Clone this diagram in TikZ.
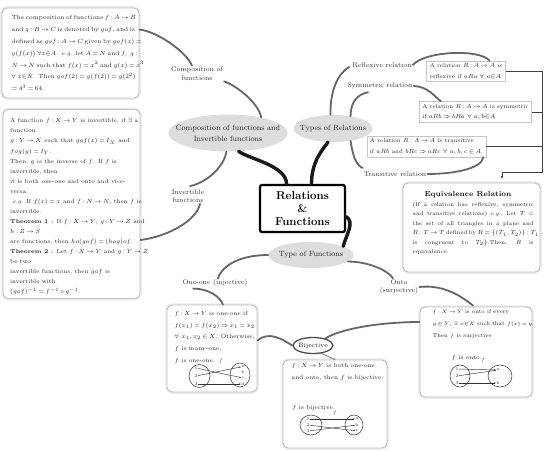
\documentclass[tikz,border=0pt]{standalone}
\usepackage{amsmath,amssymb}
\usepackage{fontspec}
\usetikzlibrary{shapes.geometric,calc,arrows.meta}
\newcommand{\jl}[2]{\makebox[#1][s]{#2}}
\begin{document}
\begin{tikzpicture}[x=1pt,y=-1pt,
  bigbox/.style={draw=gray!50, line width=0.9pt, rounded corners=5pt, fill=white, preaction={draw=gray!15, line width=3.5pt}, inner sep=0pt},
  rbox/.style={draw=gray!45, line width=0.6pt, fill=white, inner xsep=3pt, inner ysep=2.5pt, align=left, font=\fontsize{5.7}{10.5}\selectfont, text=black!85},
  txt/.style={inner sep=0pt, anchor=north west, text=black!85},
  bubble/.style={ellipse, fill=gray!27, inner sep=0pt},
  bubtext/.style={inner sep=0pt, text=black!85, align=center, font=\fontsize{7.6}{11}\selectfont},
  lab/.style={inner sep=1pt, text=black!80, align=center, font=\fontsize{6.8}{8.5}\selectfont},
  trunk/.style={line width=3.4pt, line cap=round, black!90},
  limb/.style={line width=1.8pt, line cap=round, black!60},
  twig/.style={line width=0.8pt, line cap=round, black!55},
  brk/.style={line width=0.7pt, black!75},
  setell/.style={ellipse, draw=black!75, line width=0.55pt, inner sep=0pt},
  elem/.style={inner sep=0.4pt, font=\fontsize{4.3}{5}\selectfont, text=black!80},
  mapar/.style={line width=0.45pt, black!80, -{Stealth[length=1.8pt,width=1.4pt]}},
]
\thickmuskip=3.5mu plus 2mu
\medmuskip=2.5mu plus 1mu
\fill[white] (0,0) rectangle (557,452);
\useasboundingbox (0,0) rectangle (557,452);

% ---------- left boxes
\node[bigbox, minimum width=137pt, minimum height=90pt] (tl) at (70.5,53) {};
\node[txt, align=left, font=\fontsize{6.0}{11.8}\selectfont] (tltext) at (11.5,15.5) {\jl{122pt}{The composition of functions $f : A \to B$}\\
\jl{122pt}{and $g : B \to C$ is denoted by $gof$, and is}\\
\jl{122pt}{defined as $gof : A \to C$ given by $gof(x) =$}\\
\jl{122pt}{$g(f(x))\ \forall x{\in}A$. \emph{e.g.} let $A = N$ and $f,\ g:$}\\
\jl{122pt}{$N \to N$ such that $f(x) = x^2$ and $g(x) = x^3$}\\
\jl{122pt}{$\forall\ x{\in}N$. Then $gof(2) = g(f(2)) = g(2^2)$}\\
$= 4^3 = 64$.};

\node[bigbox, minimum width=137pt, minimum height=189pt] (lb) at (71.5,204) {};
\node[txt, align=left, font=\fontsize{5.8}{10.06}\selectfont] (lbtext) at (10,118.5) {A function $f : X \to Y$ is invertible, if $\exists$ a\\
function\\
$g : Y \to X$ such that $gof(x) = I_X$ and\\
$fog(y) = I_Y$.\\
Then, $g$ is the inverse of $f$. If $f$ is\\
invertible, then\\
it is both one-one and onto and vice-\\
versa.\\
\ \emph{e.g.} If $f(x) = x$ and $f : N \to N$, then $f$ is\\
invertible.\\
\textbf{Theorem 1 :} If $f : X \to Y$, $g : Y \to Z$ and\\
$h : Z \to S$\\
are functions, then $ho(gof) = (hog)of$.\\
\textbf{Theorem 2 :} Let $f : X \to Y$ and $g : Y \to Z$\\
be two\\
invertible functions, then $gof$ is\\
invertible with\\
$(gof)^{-1} = f^{-1} \circ g^{-1}$.};

% ---------- equivalence box
\node[bigbox, minimum width=137pt, minimum height=89pt] (beq) at (471.5,227.5) {};
\node[txt, anchor=north, font=\fontsize{7.3}{9}\selectfont\bfseries, text=black!90] (eqtitle) at (468,191) {Equivalence Relation};
\node[txt, align=left, font=\fontsize{5.6}{9.5}\selectfont] (eqtext) at (412.5,202) {\jl{121pt}{(If a relation has reflexive, symmetric}\\
\jl{121pt}{and transitive relations) \emph{e.g.}, Let $T$ =}\\
\jl{121pt}{the set of all triangles in a plane and}\\
\jl{121pt}{$R : T \to T$ defined by $R = \{(T_1, T_2)\} : T_1$}\\
\jl{121pt}{is congruent to $T_2\}$.Then, $R$ is}\\
equivalence.};

% ---------- relation boxes
\node[rbox] (brefl) at (466,71) {A relation $R : A \to A$ is\\ reflexive if $aRa\ \forall\ a{\in}A$};
\node[rbox] (bsym) at (475.5,112) {A relation $R : A \to A$ is symmetric\\ if $aRb \Rightarrow bRa\ \forall\ a,b{\in}A$};
\node[rbox] (btrans) at (426.5,146.5) {A relation $R : A \to A$ is transitive\\ if $aRb$ and $bRc \Rightarrow aRc\ \forall\ a,b,c \in A$.};

% ---------- hub
\node[draw=black, line width=2.2pt, rounded corners=2pt, fill=white, minimum width=85pt, minimum height=47pt, inner sep=1pt, align=center, font=\fontsize{11.5}{13}\selectfont\bfseries] (hub) at (302.5,208.5) {Relations\\\&\\Functions};

% ---------- bubbles
\node[bubble, minimum width=119pt, minimum height=37pt] (ecomp) at (228,133) {};
\node[bubtext] (ecompt) at (ecomp) {Composition of functions and\\Invertible functions};
\node[bubble, minimum width=79pt, minimum height=27pt] (erel) at (333,128.5) {};
\node[bubtext] (erelt) at (erel) {Types of Relations};
\node[bubble, minimum width=85pt, minimum height=26pt] (efun) at (311,255) {};
\node[bubtext] (efunt) at (efun) {Type of Functions};
\node[ellipse, draw=black!70, line width=1.3pt, fill=white, minimum width=40pt, minimum height=16pt, inner sep=0pt] (ebij) at (313,345.5) {};
\node[bubtext, font=\fontsize{6.3}{7}\selectfont] (ebijt) at (ebij) {Bijective};

% ---------- labels
\node[lab] (lcomp) at (197,73.5) {Composition of\\functions};
\node[lab] (linv) at (188,196) {Invertible\\functions};
\node[lab] (lrefl) at (382,65) {Reflexive relation};
\node[lab] (lsym) at (380,86) {Symmetric relation};
\node[lab] (ltrans) at (395,174) {Transitive relation};
\node[lab] (lone) at (215,283) {One-one (injective)};
\node[lab] (lonto) at (399,287) {Onto\\(surjective)};

% ---------- function boxes
\node[bigbox, minimum width=90pt, minimum height=87pt] (bone) at (212,348.5) {};
\node[txt, align=left, font=\fontsize{5.9}{11.7}\selectfont] (onetext) at (174.5,311) {$f : X \to Y$ is one-one if\\
$f(x_1) = f(x_2) \Rightarrow x_1 = x_2$\\
$\forall\ x_1, x_2 \in X$. Otherwise,\\
$f$ is many-one,\\
$f$ is one-one.};

\node[bigbox, minimum width=104pt, minimum height=88pt] (bbij) at (335,404) {};
\node[txt, align=left, font=\fontsize{5.9}{12}\selectfont] (bijtext) at (291.5,363.5) {$f : X \to Y$ is both one-one\\and onto, then $f$ is bijective.};
\node[txt, font=\fontsize{5.9}{8}\selectfont] (bijnote) at (292,405) {$f$ is bijective.};

\node[bigbox, minimum width=112pt, minimum height=90pt] (bonto) at (476,352) {};
\node[txt, align=left, font=\fontsize{5.5}{12}\selectfont] (ontotext) at (432.5,309.5) {$f : X \to Y$ is onto if every\\
$y \in Y$, $\exists\ x{\in}X$ such that $f(x) = y$.\\
Then $f$ is surjective};
\node[txt, font=\fontsize{5.9}{8}\selectfont] (ontonote) at (451.5,355.5) {$f$ is onto.};

% ---------- mini diagram: one-one
\node[setell, minimum width=21pt, minimum height=23pt] (oX) at (199.5,376) {};
\node[setell, minimum width=20pt, minimum height=24pt] (oY) at (240,375) {};
\node[elem] (o1) at (196,368) {1};
\node[elem] (o2) at (196,376) {2};
\node[elem] (o3) at (196,384) {3};
\node[elem] (oa) at (243,366.5) {a};
\node[elem] (ob) at (243,372) {b};
\node[elem] (oc) at (243,378) {c};
\node[elem] (od) at (243,384) {d};
\draw[mapar] (o1) -- (oc);
\draw[mapar] (o2) -- (oa);
\draw[mapar] (o3) -- (od);
\node[elem, font=\fontsize{5.5}{6}\selectfont] (of) at (221,361) {$f$};

% ---------- mini diagram: bijective
\node[setell, minimum width=22pt, minimum height=20pt] (bX) at (311,425) {};
\node[setell, minimum width=18pt, minimum height=20pt] (bY) at (354,425) {};
\node[elem] (b1) at (308,419) {1};
\node[elem] (b2) at (308,425) {2};
\node[elem] (b3) at (308,431) {3};
\node[elem] (ba) at (357,419) {a};
\node[elem] (bb) at (357,425) {b};
\node[elem] (bc) at (357,431) {c};
\draw[mapar] (b1) -- (ba);
\draw[mapar] (b2) -- (bc);
\draw[mapar] (b3) -- (bb);
\node[elem, font=\fontsize{5.5}{6}\selectfont] (bf) at (335,413) {$f$};

% ---------- mini diagram: onto
\node[setell, minimum width=20pt, minimum height=22pt] (nX) at (460,376) {};
\node[setell, minimum width=24pt, minimum height=22pt] (nY) at (500,376) {};
\node[elem] (n1) at (457,369) {1};
\node[elem] (n2) at (457,376) {2};
\node[elem] (n3) at (457,383) {3};
\node[elem] (na) at (498,370) {a};
\node[elem] (nb) at (498,383) {b};
\draw[mapar] (n1) -- (na);
\draw[mapar] (n2) -- (na);
\draw[mapar] (n3) -- (nb);
\node[elem, font=\fontsize{5.5}{6}\selectfont] (nf) at (483,360) {$f$};

% ---------- connectors
\draw[trunk] ($(hub.north)+(-16,0)$) .. controls +(0,-18) and +(12,8) .. (ecomp.-60);
\draw[trunk] ($(hub.north)+(9,0)$) .. controls +(0,-22) and +(-6,8) .. (erel.-110);
\draw[trunk] ($(hub.east)+(0,8)$) .. controls +(9,6) and +(3,-12) .. (efun.15);

\draw[limb] (ecomp.25) .. controls +(-3,-15) and +(12,4) .. (lcomp.south east);
\draw[limb] ($(lcomp.north)+(-5,0)$) .. controls +(-6,-14) and +(18,2) .. ($(tl.north east)+(0,22)$);
\draw[limb] (ecomp.-95) .. controls +(-2,14) and +(18,-4) .. ($(linv.north)+(2,-2)$);
\draw[limb] ($(linv.south)+(12,0)$) .. controls +(-4,18) and +(25,-3) .. ($(lb.east)+(0,36)$);

\draw[limb] (erel.100) .. controls +(-1,-25) and +(-10,5) .. ($(lrefl.west)+(-2,2)$);
\draw[limb] (erel.35) .. controls +(0,-15) and +(-10,2) .. ($(lsym.south)+(-12,2)$);
\draw[limb] (erel.-35) .. controls +(2,12) and +(-8,-4) .. ($(ltrans.west)+(0,-6)$);
\draw[limb] (lrefl.east) .. controls +(12,-14) and +(-10,-12) .. ($(brefl.north east)+(-16,0)$);
\draw[limb] (lsym.east) .. controls +(15,1) and +(-8,-6) .. ($(bsym.north west)+(22,0)$);
\draw[limb] ($(btrans.south east)+(-3,0)$) .. controls +(-2,12) and +(25,0) .. (ltrans.east);

\coordinate (rail) at (542,0);
\coordinate (knee) at (502,172);
\coordinate (kneeend) at (502,179);
\draw[brk] (brefl.east) -- (brefl.east -| rail) -- (rail |- knee) -- (knee);
\draw[brk, -{Latex[length=3pt,width=2.6pt]}] (knee) -- (kneeend);
\draw[brk] (bsym.east) -- (bsym.east -| rail);
\draw[brk] (btrans.east) -- (btrans.east -| rail);

\draw[limb] (efun.west) .. controls +(-25,0) and +(5,-15) .. ($(lone.north)+(3,0)$);
\draw[limb] ($(lone.south west)+(12,1)$) .. controls +(15,0) and +(-3,-8) .. ($(bone.north)+(11,0)$);
\draw[limb] (efun.-10) .. controls +(20,0) and +(-5,-8) .. ($(lonto.north)+(-6,0)$);
\draw[limb] (lonto.east) .. controls +(25,-3) and +(-10,-8) .. ($(bonto.north)+(-3,-1)$);
\draw[limb] ($(bone.east)+(0,-8)$) .. controls +(12,-10) and +(-10,-6) .. (ebij.west);
\draw[limb] (ebij.30) .. controls +(20,-12) and +(-30,0) .. ($(bonto.west)+(0,-30)$);
\draw[twig] ($(ebij.south)+(8,-1)$) -- (bbij.north);
\end{tikzpicture}
\end{document}
